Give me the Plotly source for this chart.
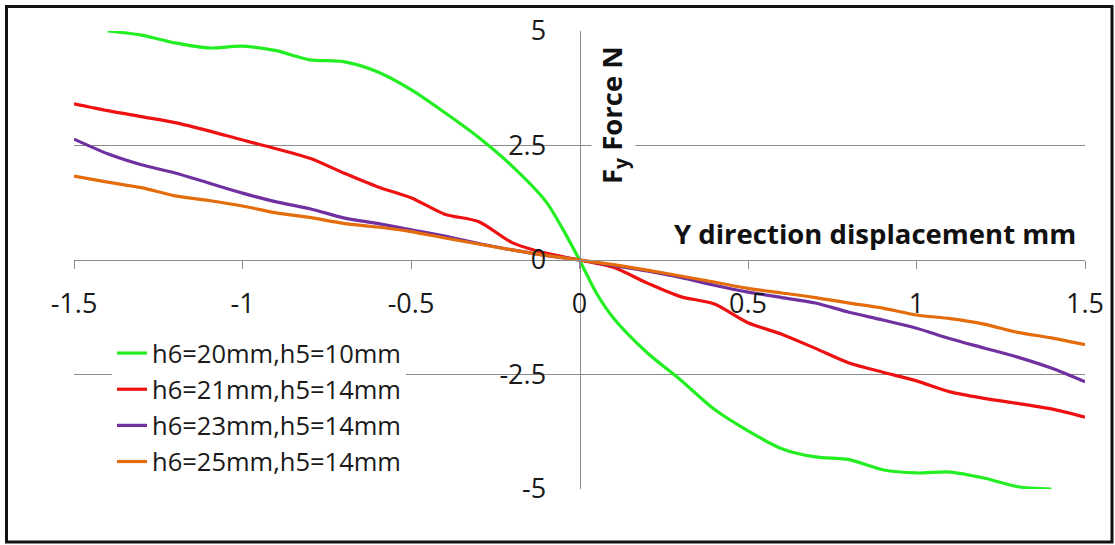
import plotly.graph_objects as go

# Y-direction displacement (mm)
displacement = [-1.5, -1.4, -1.3, -1.2, -1.1, -1.0, -0.9, -0.8, -0.7, -0.6, -0.5,
                -0.4, -0.3, -0.2, -0.1, 0.0, 0.1, 0.2, 0.3, 0.4, 0.5,
                0.6, 0.7, 0.8, 0.9, 1.0, 1.1, 1.2, 1.3, 1.4, 1.5]

# h6=20mm,h5=10mm covers a slightly shorter span
displacement_h6_20 = [-1.4, -1.3, -1.2, -1.1, -1.0, -0.9, -0.8, -0.7, -0.6, -0.5,
                      -0.4, -0.3, -0.2, -0.1, -0.05, 0.0, 0.05, 0.1, 0.2, 0.3, 0.4,
                      0.5, 0.6, 0.7, 0.8, 0.9, 1.0, 1.1, 1.2, 1.3, 1.4]

# Fy force (N)
force_h6_20 = [5.00, 4.91, 4.74, 4.63, 4.67, 4.57, 4.37, 4.33, 4.11, 3.72,
               3.22, 2.68, 2.05, 1.28, 0.68, 0.0, -0.72, -1.26, -2.02, -2.62, -3.26,
               -3.73, -4.12, -4.30, -4.36, -4.58, -4.65, -4.63, -4.76, -4.95, -5.00]

force_h6_21 = [3.41, 3.26, 3.13, 3.00, 2.82, 2.62, 2.43, 2.22, 1.90, 1.60, 1.36,
               1.00, 0.84, 0.38, 0.15, 0.0, -0.16, -0.50, -0.80, -0.96, -1.37,
               -1.62, -1.93, -2.25, -2.45, -2.64, -2.88, -3.02, -3.13, -3.25, -3.43]

force_h6_23 = [2.64, 2.32, 2.08, 1.90, 1.68, 1.46, 1.27, 1.12, 0.92, 0.80, 0.66,
               0.52, 0.36, 0.22, 0.10, 0.0, -0.12, -0.24, -0.38, -0.55, -0.70,
               -0.82, -0.94, -1.14, -1.31, -1.49, -1.72, -1.92, -2.12, -2.36, -2.66]

force_h6_25 = [1.83, 1.70, 1.58, 1.40, 1.30, 1.18, 1.03, 0.93, 0.80, 0.72, 0.62,
               0.48, 0.35, 0.22, 0.10, 0.0, -0.10, -0.22, -0.35, -0.48, -0.62,
               -0.72, -0.82, -0.94, -1.05, -1.20, -1.28, -1.40, -1.58, -1.70, -1.85]

series_names = ["h6=20mm,h5=10mm", "h6=21mm,h5=14mm",
                "h6=23mm,h5=14mm", "h6=25mm,h5=14mm"]
series_colors = ["#22EE22", "#EE1111", "#7030A0", "#E46C0A"]

x_tick_values = [-1.5, -1.0, -0.5, 0.0, 0.5, 1.0, 1.5]
x_tick_labels = ["-1.5", "-1", "-0.5", "0", "0.5", "1", "1.5"]
y_tick_values = [-5.0, -2.5, 0.0, 2.5, 5.0]
y_tick_labels = ["-5", "-2.5", "0", "2.5", "5"]

x_title = "Y direction displacement mm"
y_title = "F<sub>y</sub> Force N"

# canvas and plot-area geometry (pixels)
W, H = 1115, 545
PL, PR, PT, PB = 74, 1085, 31, 489
FONT = "Open Sans"
TEXT = "#1a1a1a"
GRID = "#8C8C8C"


def px_x(px):
    return (px - PL) / (PR - PL)


def px_y(py):
    return (PB - py) / (PB - PT)


fig = go.Figure()

x_sets = [displacement_h6_20, displacement, displacement, displacement]
y_sets = [force_h6_20, force_h6_21, force_h6_23, force_h6_25]
for xs, ys, name, color in zip(x_sets, y_sets, series_names, series_colors):
    fig.add_trace(go.Scatter(
        x=xs, y=ys, name=name, mode="lines",
        line=dict(color=color, width=3.2, shape="spline", smoothing=0.8),
    ))

fig.update_layout(
    width=W, height=H,
    margin=dict(l=PL, r=W - PR, t=PT, b=H - PB, pad=0),
    paper_bgcolor="white", plot_bgcolor="white",
    font=dict(family=FONT, size=27, color=TEXT),
    showlegend=True,
    legend=dict(
        x=px_x(112), y=px_y(330), xanchor="left", yanchor="top",
        bgcolor="white", borderwidth=0,
        font=dict(family=FONT, size=25.5, color=TEXT),
        itemwidth=30, tracegroupgap=0,
    ),
    xaxis=dict(
        range=[-1.5, 1.5], anchor="free", position=0.5,
        showgrid=False, zeroline=False,
        showline=True, linecolor=GRID, linewidth=1,
        ticks="outside", ticklen=8, tickcolor=GRID, tickwidth=1,
        tickvals=x_tick_values, ticktext=x_tick_labels,
        ticklabelstandoff=12,
        tickfont=dict(family=FONT, size=27, color=TEXT),
        fixedrange=True,
    ),
    yaxis=dict(
        range=[-5, 5], anchor="free", position=0.5,
        showgrid=True, gridcolor=GRID, gridwidth=1,
        zeroline=False,
        showline=True, linecolor=GRID, linewidth=1,
        ticks="", tickvals=y_tick_values, ticktext=y_tick_labels,
        ticklabelstandoff=28,
        tickfont=dict(family=FONT, size=27, color=TEXT),
        fixedrange=True,
    ),
    shapes=[
        dict(type="rect", xref="paper", yref="paper",
             x0=px_x(6.5), x1=px_x(1112), y0=px_y(542), y1=px_y(6.5),
             line=dict(color="#111111", width=3), fillcolor="rgba(0,0,0,0)",
             layer="above"),
    ],
    annotations=[
        dict(text=f"<b>{x_title}</b>", xref="paper", yref="paper",
             x=px_x(1078), y=px_y(233), xanchor="right", yanchor="middle",
             showarrow=False, font=dict(family=FONT, size=27.5, color="#111111")),
        dict(text=f"<b>{y_title}</b>", xref="paper", yref="paper",
             x=px_x(614), y=px_y(115), xanchor="center", yanchor="middle",
             textangle=-90, showarrow=False, bgcolor="white",
             font=dict(family=FONT, size=27.5, color="#111111")),
    ],
)

fig.write_html("out.html")
